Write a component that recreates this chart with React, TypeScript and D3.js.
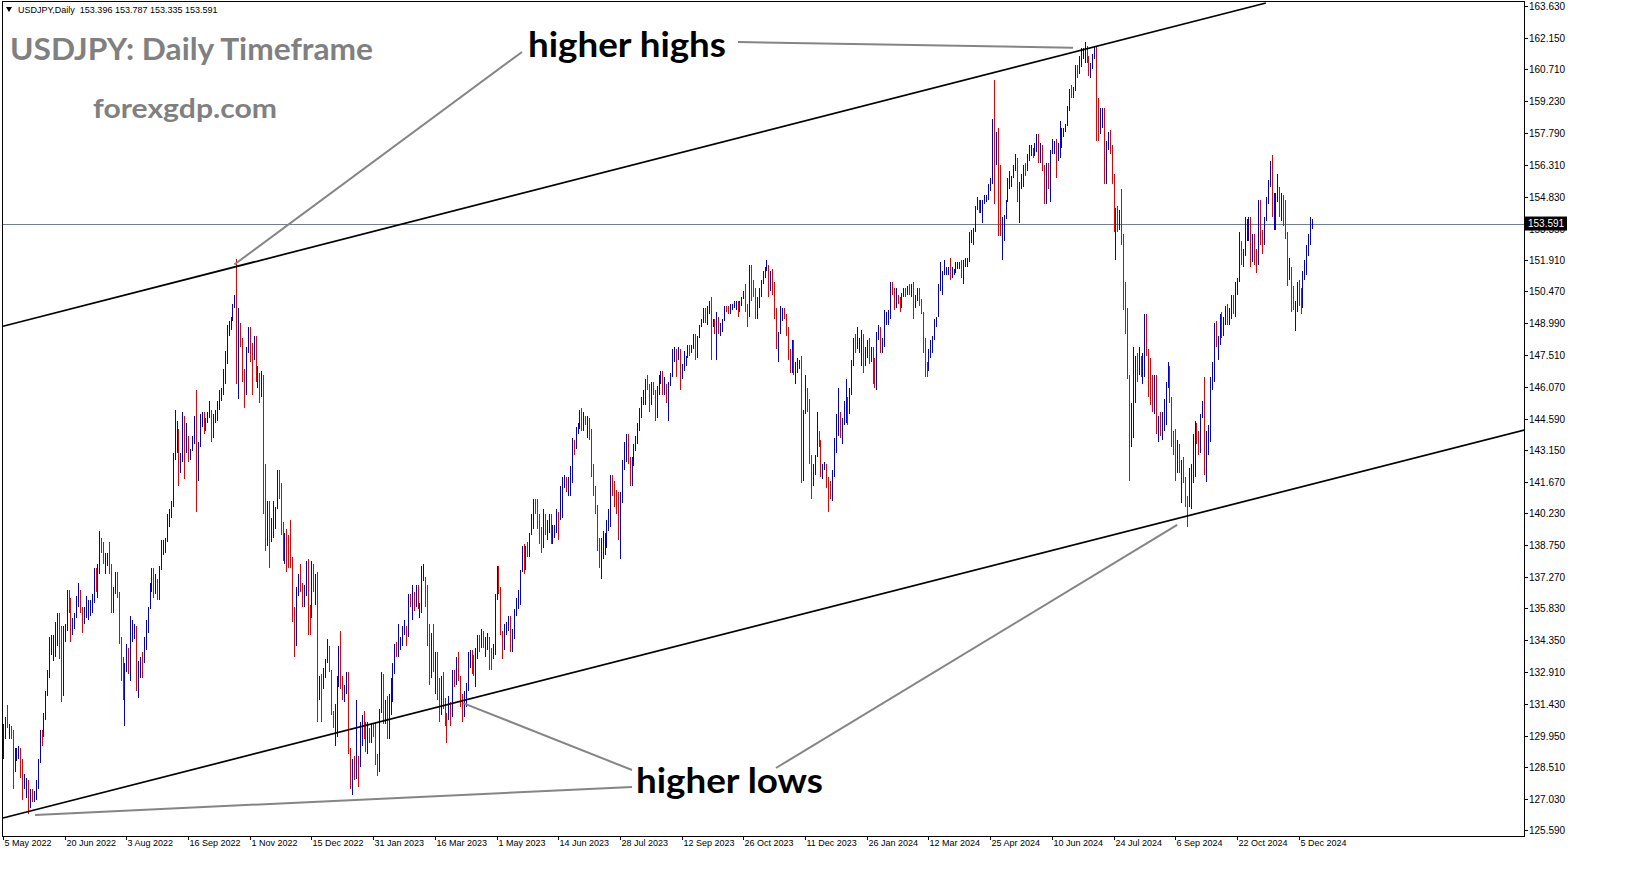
import React from "react";
import * as d3 from "d3";

// daily bars, one line per week (first bar: 5 May 2022)
const highs = [
  130.5, 130.8,
  131.35, 130.5, 130.4, 130.2, 129.4,
  129.4, 129.5, 129.4, 128.9, 128.2,
  128.0, 127.9, 127.5, 127.5, 127.4,
  127.9, 128.9, 130.2, 130.2, 131.0,
  132.0, 133.0, 134.5, 134.6, 134.6,
  135.2, 135.6, 135.6, 135.0, 135.0,
  135.1, 136.7, 136.7, 136.3, 135.4,
  135.6, 136.4, 137.0, 136.7, 135.9,
  135.9, 136.4, 136.2, 136.2, 136.5,
  137.7, 137.7, 137.9, 139.4, 139.1,
  138.9, 138.4, 138.4, 138.9, 137.9,
  136.8, 137.5, 137.5, 136.6, 134.5,
  133.6, 133.3, 134.2, 134.0, 135.5,
  135.3, 135.1, 135.0, 133.4, 133.6,
  133.8, 134.5, 135.3, 135.9, 137.0,
  137.7, 137.7, 137.4, 137.2, 137.8,
  139.0, 139.0, 139.1, 140.2, 140.4,
  140.8, 143.0, 145.0, 144.5, 144.1,
  143.0, 144.9, 144.7, 144.4, 143.8,
  143.2, 143.8, 144.7, 145.9, 143.5,
  144.8, 144.9, 144.9, 144.6, 144.9,
  145.4, 145.0, 144.8, 145.0, 145.4,
  145.9, 146.0, 146.9, 147.7, 148.9,
  149.1, 149.3, 149.9, 150.3, 151.95,
  149.7, 149.0, 148.3, 146.9, 147.9,
  148.8, 148.8, 148.1, 148.4, 148.4,
  147.0, 146.7, 146.8, 146.6, 142.5,
  140.8, 140.8, 140.0, 140.8, 140.5,
  142.2, 142.2, 141.6, 139.8, 139.3,
  139.5, 139.2, 139.9, 138.2, 135.9,
  136.8, 137.4, 137.9, 137.0, 136.9,
  138.0, 138.1, 136.0, 138.0, 137.9,
  137.4, 137.5, 132.7, 132.8, 133.1,
  133.5, 134.4, 134.1, 133.0,
  131.1, 131.4, 132.7, 134.1, 134.8, // Jan 2023
  132.7, 132.3, 132.9, 132.9, 129.4,
  128.9, 129.0, 131.6, 129.0, 130.6,
  130.9, 131.1, 130.6, 130.6, 130.3,
  130.5, 130.5, 130.6, 129.1, 131.2,
  132.9, 132.8, 131.6, 131.8, 131.9,
  132.6, 133.3, 134.2, 134.3, 135.1,
  134.5, 135.0, 135.3, 135.0, 136.5,
  136.5, 136.9, 136.6, 136.9, 136.9,
  136.1, 137.8, 137.9, 137.3, 136.9,
  135.1, 134.7, 135.1, 133.8, 133.8,
  132.6, 132.7, 132.9, 131.7, 131.0,
  131.8, 131.5, 133.0, 133.0, 133.6,
  133.8, 132.7, 131.9, 132.0, 132.4,
  133.8, 133.9, 133.9, 133.7, 134.0,
  134.6, 134.6, 134.9, 134.8, 134.5,
  134.7, 134.5, 134.0, 134.2, 136.5,
  137.8, 137.8, 136.8, 134.8, 135.1,
  135.2, 135.5, 135.5, 134.9, 135.8,
  136.3, 136.7, 137.6, 138.7, 138.8,
  138.7, 138.9, 139.3, 140.2, 140.9,
  140.9, 140.9, 140.2, 139.6, 140.4,
  140.2, 139.9, 140.2, 140.2, 139.7,
  139.7, 140.4, 140.3, 141.5, 141.9,
  142.0, 141.9, 141.9, 142.4, 143.7,
  143.6, 144.2, 144.4, 145.0, 145.1,
  144.9, 144.7, 144.7, 144.6, 144.1,
  142.5, 141.5, 140.6, 139.1, 139.1,
  139.4, 139.3, 139.9, 140.4, 142.0,
  142.0, 141.7, 141.3, 141.2, 141.2,
  142.7, 143.5, 143.9, 143.9, 142.8,
  142.8, 143.4, 143.8, 144.4, 145.1,
  145.6, 145.9, 146.4, 146.6, 146.2,
  146.3, 146.3, 145.9, 146.1, 146.6,
  146.8, 146.8, 146.5, 146.2, 146.3,
  146.7, 147.8, 147.9, 147.8, 147.9,
  147.8, 147.1, 147.7, 147.5, 148.0,
  148.0, 148.0, 148.5, 148.5, 148.4,
  148.9, 149.2, 149.7, 149.7, 149.8,
  150.0, 150.2, 149.2, 149.2, 149.5,
  149.3, 149.0, 149.2, 149.8, 149.8,
  149.8, 149.9, 149.9, 150.0, 150.0,
  150.0, 150.0, 150.2, 150.5, 150.8,
  149.9, 151.7, 151.7, 151.0, 150.6,
  150.2, 150.6, 151.0, 151.4, 151.6,
  151.9, 151.7, 151.4, 151.5, 150.9,
  149.7, 148.6, 149.8, 149.7, 149.7,
  149.4, 148.8, 147.8, 148.2, 148.2,
  147.2, 147.4, 147.3, 147.5, 145.0,
  146.6, 146.0, 145.5, 142.9, 142.5,
  142.9, 144.9, 144.0, 143.6, 142.5,
  142.6, 142.5, 141.9, 141.7,
  142.2, 143.7, 144.8, 146.0, // Jan 2024
  144.9, 144.6, 145.4, 146.4, 145.6,
  146.0, 147.3, 148.3, 148.5, 148.8,
  148.3, 148.7, 148.5, 147.9, 148.2,
  148.3, 147.9, 147.9, 147.4, 148.6,
  148.9, 148.8, 148.3, 149.6, 149.5,
  149.6, 150.9, 150.9, 150.6, 150.6,
  150.3, 150.2, 150.4, 150.6, 150.6,
  150.7, 150.8, 150.8, 150.9, 150.3,
  150.6, 150.6, 150.1, 149.5, 148.3,
  147.2, 147.8, 148.2, 148.4, 149.2,
  149.3, 150.8, 151.8, 151.4, 151.9,
  151.6, 151.6, 152.0, 151.6, 151.5,
  151.8, 151.8, 151.8, 151.9, 151.9,
  152.0, 152.0, 153.2, 153.3, 153.4,
  154.4, 154.8, 154.7, 154.7, 154.7,
  154.9, 154.9, 155.4, 155.7, 158.4,
  160.2, 157.8, 158.0, 156.3, 153.9,
  154.0, 154.7, 155.7, 156.0, 155.8,
  156.3, 156.8, 156.6, 155.5, 155.9,
  156.3, 156.4, 156.8, 157.2, 157.2,
  157.1, 157.3, 157.7, 157.7, 157.3,
  157.2, 156.3, 156.4, 156.4, 157.0,
  157.5, 157.4, 157.5, 157.3, 158.3,
  158.0, 158.0, 158.2, 159.0, 159.8,
  160.0, 159.9, 160.9, 160.9, 161.3,
  161.7, 161.7, 161.95, 161.8, 161.3,
  161.0, 161.4, 161.8, 161.8, 159.4,
  158.9, 158.9, 158.9, 157.4, 157.8,
  157.9, 157.2, 155.9, 154.3, 154.4,
  154.2, 155.2, 153.1, 150.9, 149.7,
  146.6, 145.3, 147.9, 147.5, 147.6,
  147.9, 147.5, 147.6, 149.4, 149.4,
  147.8, 147.4, 146.6, 146.6, 146.6,
  144.7, 144.9, 144.9, 145.5, 146.3,
  147.2, 147.0, 145.6, 144.0, 144.1,
  143.6, 143.4, 142.7, 142.8, 141.9,
  141.0, 142.3, 142.5, 143.9, 144.5,
  144.4, 144.0, 144.8, 145.4, 146.5,
  144.0, 144.3, 146.5, 147.2, 149.0,
  149.1, 148.4, 149.4, 149.5, 149.3,
  149.8, 149.9, 149.7, 150.3, 150.3,
  150.9, 151.1, 153.2, 152.8, 152.4,
  153.9, 153.8, 153.9, 153.9, 153.1,
  153.1, 152.4, 154.7, 154.7, 153.3,
  153.9, 154.8, 155.6, 156.5, 156.75,
  155.0, 155.0, 155.9, 155.3, 155.0,
  154.9, 154.7, 153.2, 152.0, 151.6,
  150.7, 150.0, 150.9, 151.0, 150.6,
  151.4, 151.9, 152.6, 153.1, 153.9,
  153.787,
];

const lows = [
  128.9, 129.8,
  130.3, 129.8, 129.8, 127.5, 128.3,
  128.8, 128.9, 128.0, 127.0, 127.5,
  127.1, 126.36, 126.6, 126.9, 126.9,
  127.0, 127.5, 128.7, 129.5, 129.9,
  130.7, 131.8, 132.6, 133.7, 133.4,
  133.6, 134.1, 133.5, 131.5, 131.8,
  134.3, 134.8, 135.6, 134.3, 134.6,
  134.9, 135.4, 135.9, 135.6, 134.7,
  135.1, 135.4, 135.3, 135.5, 135.6,
  136.1, 136.6, 136.3, 137.4, 138.4,
  137.9, 137.4, 137.8, 137.4, 135.6,
  135.6, 136.5, 136.3, 134.2, 132.5,
  131.6, 130.4, 132.9, 132.8, 132.5,
  134.3, 134.4, 132.0, 131.7, 132.6,
  132.6, 133.3, 133.9, 134.7, 135.8,
  136.6, 136.3, 136.5, 136.2, 136.2,
  137.6, 138.3, 138.4, 138.9, 139.6,
  140.0, 140.5, 142.7, 143.0, 141.5,
  142.1, 142.6, 141.8, 143.0, 142.6,
  142.7, 143.1, 143.4, 140.3, 141.7,
  143.3, 144.2, 143.9, 144.0, 144.4,
  144.6, 143.5, 143.7, 144.4, 144.5,
  145.0, 145.4, 145.7, 146.2, 147.1,
  148.4, 148.7, 149.1, 149.7, 146.2,
  145.5, 147.9, 146.3, 145.1, 145.7,
  147.6, 147.2, 145.7, 147.3, 146.3,
  146.0, 145.3, 145.6, 140.2, 138.5,
  138.7, 137.7, 138.9, 139.1, 139.5,
  140.4, 140.9, 139.2, 138.0, 137.9,
  137.5, 137.7, 137.7, 135.2, 133.6,
  134.1, 136.4, 136.6, 135.9, 135.9,
  136.4, 134.6, 134.6, 135.4, 136.6,
  136.0, 130.6, 131.6, 130.6, 132.1,
  132.6, 133.3, 132.9, 130.9,
  130.3, 129.5, 129.9, 132.2, 132.1,
  131.6, 131.5, 131.9, 129.1, 127.5,
  127.2, 127.9, 127.95, 127.6, 128.5,
  129.5, 129.8, 129.2, 129.1, 129.6,
  129.6, 129.9, 128.6, 128.1, 128.3,
  131.0, 130.5, 130.5, 129.8, 129.8,
  130.9, 131.5, 132.8, 133.6, 133.6,
  133.9, 134.1, 134.6, 134.1, 134.5,
  135.9, 135.3, 135.7, 135.9, 135.8,
  135.4, 135.6, 137.1, 135.9, 134.1,
  132.3, 132.6, 132.9, 131.9, 131.6,
  130.6, 130.9, 131.2, 130.4, 129.6,
  130.7, 130.4, 130.8, 132.2, 132.3,
  132.5, 131.3, 130.6, 130.8, 131.3,
  132.0, 133.1, 132.8, 132.7, 132.2,
  133.5, 133.8, 134.0, 134.0, 133.6,
  133.9, 133.0, 133.0, 133.5, 133.7,
  136.2, 136.5, 134.6, 133.5, 133.9,
  134.6, 134.8, 133.8, 133.8, 134.4,
  135.5, 135.8, 136.0, 137.5, 137.4,
  137.6, 138.2, 138.2, 139.2, 139.5,
  140.2, 139.5, 138.8, 138.4, 138.6,
  139.2, 139.0, 139.3, 138.8, 138.8,
  139.1, 139.3, 139.0, 139.9, 140.0,
  141.4, 141.2, 141.0, 141.0, 141.6,
  142.9, 143.2, 143.9, 144.1, 144.0,
  144.0, 144.3, 143.7, 143.6, 141.9,
  141.0, 140.2, 138.5, 137.7, 137.2,
  138.1, 138.3, 138.6, 139.4, 139.6,
  141.0, 140.5, 140.2, 139.0, 138.1,
  140.7, 142.2, 142.6, 142.5, 141.5,
  141.5, 142.4, 143.1, 143.4, 144.0,
  144.6, 145.2, 145.2, 145.9, 144.9,
  145.2, 145.7, 144.5, 144.6, 145.7,
  146.2, 145.7, 145.7, 145.3, 144.5,
  146.1, 146.5, 147.2, 146.5, 147.3,
  145.9, 146.4, 146.8, 147.0, 147.4,
  147.5, 147.6, 147.8, 147.3, 147.4,
  148.3, 148.8, 149.0, 149.0, 148.9,
  149.4, 147.3, 148.8, 148.5, 147.3,
  148.5, 148.4, 148.6, 149.1, 149.5,
  149.4, 149.4, 149.6, 149.7, 149.6,
  149.3, 149.5, 149.8, 150.1, 149.5,
  148.8, 149.3, 150.0, 150.2, 149.2,
  149.2, 149.7, 150.2, 150.8, 151.1,
  151.4, 150.2, 150.5, 150.3, 149.2,
  147.8, 147.2, 148.5, 149.1, 149.2,
  148.4, 147.3, 146.7, 146.7, 146.6,
  146.2, 146.7, 146.9, 141.6, 141.7,
  144.8, 144.9, 142.5, 140.9, 141.5,
  142.0, 142.8, 143.3, 141.9, 141.8,
  142.2, 141.4, 140.3, 140.9,
  140.8, 141.9, 143.0, 143.8,
  143.7, 143.4, 144.3, 144.4, 144.3,
  144.8, 145.7, 147.0, 147.6, 147.8,
  147.6, 147.0, 146.7, 147.0, 147.4,
  147.1, 147.2, 146.2, 146.0, 145.9,
  148.2, 147.6, 147.6, 147.9, 148.9,
  148.9, 149.2, 150.3, 149.6, 149.7,
  149.9, 149.5, 149.7, 150.2, 150.2,
  150.3, 150.3, 150.2, 149.2, 149.7,
  150.0, 149.8, 149.4, 147.6, 146.5,
  146.5, 146.8, 147.4, 147.6, 148.2,
  148.8, 149.3, 150.5, 150.3, 151.2,
  151.2, 151.2, 151.0, 151.1, 151.2,
  151.3, 151.5, 151.5, 151.1, 150.8,
  151.6, 151.6, 151.8, 152.7, 152.6,
  153.2, 154.2, 154.1, 154.1, 153.6,
  154.5, 154.6, 154.7, 155.1, 155.4,
  154.5, 156.3, 153.0, 153.0, 151.9,
  152.8, 153.8, 154.6, 155.2, 155.3,
  155.7, 156.0, 154.6, 153.6, 155.2,
  155.3, 155.8, 156.0, 156.5, 156.7,
  156.6, 156.7, 156.9, 156.4, 156.4,
  156.0, 154.5, 154.5, 155.2, 154.6,
  156.8, 156.8, 155.7, 156.5, 156.6,
  157.1, 157.6, 157.8, 158.1, 158.8,
  159.4, 159.4, 159.7, 160.3, 160.5,
  160.8, 161.2, 161.0, 161.0, 160.4,
  160.3, 160.7, 161.2, 157.4, 157.4,
  157.7, 158.0, 155.4, 155.4, 157.0,
  156.8, 155.4, 153.2, 151.9, 153.2,
  153.3, 152.6, 149.6, 148.5, 146.4,
  141.7, 143.3, 143.7, 145.3, 146.3,
  146.6, 146.5, 146.2, 146.5, 147.5,
  145.6, 145.2, 144.9, 144.8, 143.9,
  143.5, 143.8, 143.6, 144.0, 144.3,
  146.0, 145.3, 143.3, 142.9, 141.7,
  142.1, 142.1, 140.7, 141.6, 140.5,
  139.6, 140.5, 140.4, 141.6, 141.9,
  143.4, 142.9, 143.0, 144.6, 142.0,
  141.65, 142.9, 143.5, 145.9, 146.3,
  147.9, 147.3, 148.0, 148.3, 148.4,
  148.9, 148.9, 148.9, 149.2, 149.4,
  149.3, 150.3, 150.9, 151.7, 151.6,
  152.1, 152.8, 152.8, 151.6, 151.8,
  151.7, 151.3, 151.7, 152.6, 152.2,
  152.6, 153.7, 154.5, 155.3, 153.9,
  153.3, 153.3, 154.6, 153.9, 153.7,
  153.5, 152.9, 150.7, 151.0, 149.5,
  149.6, 148.65, 149.5, 149.8, 149.4,
  149.7, 151.0, 151.2, 152.1, 152.6,
  153.335,
];

const closes = [
  130.2, 130.6,
  130.3, 130.4, 129.9, 128.3, 129.2,
  129.2, 129.4, 128.2, 127.8, 127.9,
  127.9, 126.9, 127.3, 127.1, 127.1,
  127.6, 128.7, 130.0, 129.9, 130.9,
  131.9, 132.7, 134.2, 134.3, 134.4,
  134.4, 135.5, 134.0, 132.2, 135.0,
  135.0, 136.6, 136.2, 134.9, 135.2,
  135.4, 136.1, 136.6, 135.7, 135.2,
  135.7, 135.9, 135.9, 136.0, 136.1,
  137.4, 136.9, 137.4, 138.9, 138.5,
  138.1, 138.2, 138.2, 137.4, 136.1,
  136.7, 137.0, 136.6, 134.3, 133.3,
  131.6, 133.2, 133.8, 133.0, 135.0,
  135.0, 135.0, 132.9, 133.0, 133.4,
  133.3, 134.2, 135.1, 135.9, 136.9,
  137.5, 136.8, 137.1, 136.6, 137.4,
  138.7, 138.7, 138.9, 140.2, 140.2,
  140.5, 142.8, 144.0, 144.1, 142.5,
  142.8, 144.6, 143.2, 143.5, 142.9,
  143.2, 143.7, 144.1, 142.4, 143.4,
  144.7, 144.8, 144.1, 144.5, 144.7,
  144.9, 144.0, 144.6, 144.9, 145.3,
  145.7, 145.7, 146.8, 147.3, 148.7,
  149.0, 149.2, 149.9, 150.1, 147.7,
  148.9, 148.0, 146.4, 146.3, 147.5,
  148.7, 148.2, 147.9, 148.1, 146.6,
  146.6, 145.7, 146.4, 141.0, 138.8,
  139.9, 139.2, 139.5, 140.2, 140.4,
  142.0, 141.2, 139.5, 138.5, 139.3,
  138.9, 138.7, 138.1, 135.3, 134.3,
  136.7, 137.0, 136.7, 136.6, 136.6,
  137.7, 135.6, 135.5, 137.8, 136.7,
  136.9, 131.7, 132.4, 132.3, 132.8,
  133.5, 134.4, 133.1, 131.1,
  130.7, 131.0, 132.4, 133.4, 132.1,
  131.9, 132.2, 132.4, 129.2, 127.9,
  128.5, 128.1, 128.9, 128.5, 129.6,
  130.7, 130.2, 129.2, 130.2, 129.9,
  130.4, 130.1, 128.9, 128.7, 131.2,
  132.6, 131.1, 131.4, 131.3, 131.4,
  132.4, 133.2, 134.1, 133.9, 134.2,
  134.3, 134.9, 134.9, 134.7, 136.4,
  136.2, 136.2, 136.1, 136.8, 135.8,
  135.9, 137.2, 137.3, 136.1, 135.0,
  133.3, 134.2, 133.4, 133.7, 131.8,
  131.3, 132.5, 131.4, 130.8, 130.7,
  131.5, 130.9, 132.8, 132.7, 132.8,
  132.5, 131.7, 131.3, 131.8, 132.1,
  133.6, 133.7, 133.2, 132.8, 133.8,
  134.5, 134.1, 134.7, 134.2, 134.2,
  134.3, 133.7, 133.6, 133.9, 136.3,
  137.5, 136.6, 134.7, 134.3, 134.8,
  135.1, 135.2, 134.3, 134.5, 135.7,
  136.1, 136.2, 137.6, 138.6, 138.0,
  138.6, 138.5, 139.3, 140.0, 140.6,
  140.4, 139.8, 139.3, 138.8, 140.0,
  139.6, 139.6, 140.1, 139.0, 139.4,
  139.6, 140.2, 140.0, 140.3, 141.8,
  141.9, 141.5, 141.8, 141.9, 143.6,
  143.4, 144.0, 144.3, 144.8, 144.3,
  144.7, 144.5, 144.7, 144.0, 142.1,
  141.3, 140.4, 138.6, 138.0, 138.8,
  138.8, 139.3, 139.7, 140.2, 141.8,
  141.5, 140.9, 140.3, 139.4, 141.2,
  142.3, 143.3, 143.3, 142.6, 141.8,
  142.5, 143.4, 143.7, 144.2, 144.9,
  145.6, 145.6, 146.4, 146.1, 145.4,
  146.2, 145.9, 144.9, 146.1, 146.4,
  146.5, 145.9, 146.2, 145.5, 146.2,
  146.5, 147.7, 147.7, 147.3, 147.8,
  146.6, 147.1, 147.4, 147.4, 147.8,
  147.6, 147.9, 148.4, 147.6, 148.4,
  148.8, 149.0, 149.6, 149.3, 149.4,
  149.8, 149.0, 149.1, 148.5, 149.3,
  148.6, 148.8, 149.1, 149.8, 149.6,
  149.5, 149.8, 149.8, 149.9, 149.9,
  149.7, 149.9, 150.2, 150.4, 149.6,
  149.1, 151.7, 150.9, 150.4, 149.4,
  150.0, 150.4, 150.9, 151.3, 151.5,
  151.7, 150.4, 151.4, 150.6, 149.6,
  148.4, 148.4, 149.5, 149.6, 149.4,
  148.7, 147.4, 147.2, 148.2, 146.8,
  147.2, 147.2, 147.3, 144.1, 144.9,
  146.1, 145.4, 142.9, 141.9, 142.2,
  142.8, 143.8, 143.5, 142.1, 142.4,
  142.4, 141.7, 141.4, 141.0,
  142.0, 143.3, 144.6, 144.6,
  144.2, 144.4, 145.2, 145.3, 144.9,
  145.7, 147.2, 148.2, 148.1, 148.1,
  148.1, 148.4, 147.5, 147.6, 148.2,
  147.5, 147.6, 146.9, 146.4, 148.4,
  148.7, 147.9, 148.2, 149.3, 149.3,
  149.4, 150.8, 150.6, 149.9, 150.2,
  150.1, 150.0, 150.3, 150.5, 150.4,
  150.6, 150.5, 150.6, 150.0, 150.1,
  150.5, 150.0, 149.4, 148.0, 147.1,
  146.9, 147.6, 147.8, 148.3, 149.1,
  149.1, 150.8, 151.2, 151.3, 151.4,
  151.4, 151.6, 151.3, 151.3, 151.3,
  151.6, 151.6, 151.7, 151.3, 151.6,
  151.8, 151.8, 153.1, 153.2, 153.3,
  154.2, 154.6, 154.4, 154.6, 154.6,
  154.8, 154.8, 155.3, 155.6, 158.3,
  156.3, 157.8, 155.5, 153.0, 153.0,
  153.9, 154.6, 155.5, 155.5, 155.8,
  156.2, 156.4, 154.9, 155.4, 155.7,
  156.3, 156.2, 156.8, 157.0, 157.0,
  156.9, 157.1, 157.6, 156.8, 157.3,
  156.1, 154.8, 156.1, 155.6, 156.8,
  157.1, 157.2, 156.7, 157.1, 157.4,
  157.7, 157.9, 158.1, 158.9, 159.8,
  159.7, 159.7, 160.8, 160.7, 160.9,
  161.5, 161.5, 161.7, 161.2, 160.8,
  160.8, 161.3, 161.6, 159.0, 157.9,
  158.1, 158.4, 156.2, 157.4, 157.5,
  157.0, 155.6, 153.9, 153.9, 153.7,
  154.0, 152.7, 150.0, 149.4, 146.5,
  144.2, 144.3, 146.7, 147.2, 146.6,
  147.2, 146.8, 146.8, 149.3, 147.6,
  146.6, 145.3, 145.2, 146.3, 144.4,
  144.5, 144.0, 144.6, 144.9, 146.2,
  146.9, 145.5, 143.7, 143.4, 142.3,
  143.1, 142.4, 142.4, 141.8, 140.85,
  140.6, 142.3, 142.3, 142.6, 143.9,
  143.6, 143.2, 144.8, 144.8, 142.2,
  143.6, 143.6, 146.5, 146.9, 148.7,
  148.2, 148.2, 149.3, 148.6, 149.1,
  149.7, 149.2, 149.7, 150.1, 149.5,
  150.8, 151.0, 152.7, 151.8, 152.3,
  153.3, 153.4, 153.4, 152.0, 153.0,
  152.2, 151.6, 154.6, 152.9, 152.6,
  153.7, 154.6, 155.4, 156.3, 154.3,
  154.6, 154.6, 155.4, 154.5, 154.8,
  154.2, 153.1, 151.1, 151.6, 149.8,
  149.6, 149.6, 150.6, 150.1, 150.0,
  151.2, 151.3, 152.5, 152.9, 153.4,
  153.591,
];
const firstOpen = 129.1;

const priceTicks = [
  "163.630", "162.150", "160.710", "159.230", "157.790", "156.310", "154.830",
  "153.350", "151.910", "150.470", "148.990", "147.510", "146.070", "144.590",
  "143.150", "141.670", "140.230", "138.750", "137.270", "135.830", "134.350",
  "132.910", "131.430", "129.950", "128.510", "127.030", "125.590",
];
const dateTicks = [
  "5 May 2022", "20 Jun 2022", "3 Aug 2022", "16 Sep 2022", "1 Nov 2022", "15 Dec 2022",
  "31 Jan 2023", "16 Mar 2023", "1 May 2023", "14 Jun 2023", "28 Jul 2023", "12 Sep 2023",
  "26 Oct 2023", "11 Dec 2023", "26 Jan 2024", "12 Mar 2024", "25 Apr 2024", "10 Jun 2024",
  "24 Jul 2024", "6 Sep 2024", "22 Oct 2024", "5 Dec 2024",
];
const dateStep = 32;

const currentPrice = 153.591;
const headerText = "USDJPY,Daily  153.396 153.787 153.335 153.591";

// channel lines as [bar index, price]
const upperChannel = [[0, 148.85], [655, 163.77]];
const lowerChannel = [[0, 126.16], [789, 144.06]];

// pointer lines: label end (px) -> point on chart [bar index, price]
const pointers = [
  { from: [522, 52], to: [120, 151.7] },
  { from: [738, 42], to: [555, 161.7] },
  { from: [632, 770], to: [238.6, 131.46] },
  { from: [632, 787], to: [16.6, 126.3] },
  { from: [776, 768], to: [609, 139.68] },
];

const BULL = "#0000c8";
const BEAR = "#e60000";
const W = 1631;
const H = 888;
const plot = { left: 2, top: 1, right: 1524, bottom: 836 };
const barStep = 1.928;

export default function App() {
  const n = Math.min(highs.length, lows.length, closes.length);
  const x = d3.scaleLinear().domain([0, n - 1]).range([3, 3 + (n - 1) * barStep]);
  const y = d3.scaleLinear().domain([125.59, 163.63]).range([830.3, 6]);
  const line = d3.line<number[]>().x((d) => x(d[0])).y((d) => y(d[1]));

  const axisFont = "'Liberation Sans', Arial, sans-serif";
  const yCur = y(currentPrice);

  return (
    <svg
      width={W}
      height={H}
      style={{ position: "fixed", left: 0, top: 0, background: "#fff" }}
    >
      <defs>
        <clipPath id="plotClip">
          <rect x={plot.left} y={plot.top} width={plot.right - plot.left} height={plot.bottom - plot.top} />
        </clipPath>
      </defs>
      <rect x={0} y={0} width={W} height={H} fill="#fff" />

      {/* current price line */}
      <line x1={plot.left} x2={plot.right} y1={Math.round(yCur) + 0.5} y2={Math.round(yCur) + 0.5} stroke="#708090" strokeWidth={1} />

      <g clipPath="url(#plotClip)">
        {d3.range(n).map((i) => {
          const open = i === 0 ? firstOpen : closes[i - 1];
          const up = closes[i] >= open;
          const xx = Math.round(x(i)) + 0.5;
          const y1 = Math.round(y(highs[i]));
          const y2 = Math.max(Math.round(y(lows[i])), y1 + 1);
          return (
            <line key={i} x1={xx} x2={xx} y1={y1} y2={y2} stroke={up ? BULL : BEAR} strokeWidth={1} shapeRendering="crispEdges" />
          );
        })}
        <path d={line(upperChannel) ?? ""} stroke="#000" strokeWidth={1.7} fill="none" />
        <path d={line(lowerChannel) ?? ""} stroke="#000" strokeWidth={1.7} fill="none" />
      </g>

      {/* pointer lines */}
      {pointers.map((p, i) => (
        <line key={i} x1={p.from[0]} y1={p.from[1]} x2={x(p.to[0])} y2={y(p.to[1])} stroke="#858585" strokeWidth={2} />
      ))}

      {/* frame */}
      <rect x={plot.left + 0.5} y={plot.top + 0.5} width={plot.right - plot.left} height={plot.bottom - plot.top} fill="none" stroke="#000" strokeWidth={1} shapeRendering="crispEdges" />

      {/* price axis */}
      {priceTicks.map((t) => {
        const yy = Math.round(y(+t)) + 0.5;
        return (
          <g key={t}>
            <line x1={plot.right} x2={plot.right + 4} y1={yy} y2={yy} stroke="#000" shapeRendering="crispEdges" />
            <text x={plot.right + 5} y={yy} dy="0.35em" fontSize={10} fontFamily={axisFont} fill="#000">{t}</text>
          </g>
        );
      })}
      <rect x={plot.right + 1} y={yCur - 7} width={42} height={14} fill="#000" />
      <text x={plot.right + 4} y={yCur} dy="0.35em" fontSize={10} fontFamily={axisFont} fill="#fff">{currentPrice.toFixed(3)}</text>

      {/* date axis */}
      {dateTicks.map((t, k) => {
        const xx = Math.round(x(k * dateStep)) + 0.5;
        return (
          <g key={t}>
            <line x1={xx} x2={xx} y1={plot.bottom} y2={plot.bottom + 4} stroke="#000" shapeRendering="crispEdges" />
            <text x={xx + 1} y={plot.bottom + 7} dy="0.35em" fontSize={9} fontFamily={axisFont} fill="#000">{t}</text>
          </g>
        );
      })}

      {/* header */}
      <path d="M6,7 L12,7 L9,12 Z" fill="#000" />
      <text x={18} y={13} fontSize={9} fontFamily={axisFont} fill="#000" style={{ whiteSpace: "pre" }}>{headerText}</text>

      {/* titles and annotations */}
      <text x={10} y={60} fontSize={30} fontWeight={700} fontFamily="Lato, 'Open Sans', sans-serif" fill="#808080" textLength={363} lengthAdjust="spacingAndGlyphs">USDJPY: Daily Timeframe</text>
      <text x={93} y={118} fontSize={27} fontWeight={700} fontFamily="Lato, 'Open Sans', sans-serif" fill="#808080" textLength={184} lengthAdjust="spacingAndGlyphs">forexgdp.com</text>
      <text x={528} y={57} fontSize={34} fontWeight={700} fontFamily="Lato, 'Open Sans', sans-serif" fill="#000" textLength={198} lengthAdjust="spacingAndGlyphs">higher highs</text>
      <text x={636} y={793} fontSize={34} fontWeight={700} fontFamily="Lato, 'Open Sans', sans-serif" fill="#000" textLength={187} lengthAdjust="spacingAndGlyphs">higher lows</text>
    </svg>
  );
}
